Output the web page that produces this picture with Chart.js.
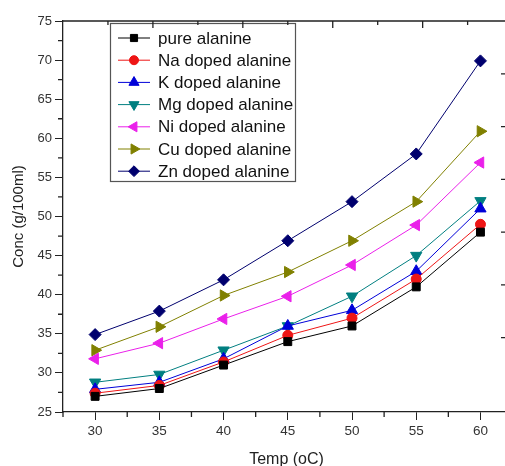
<!DOCTYPE html>
<html lang="en">
<head>
<meta charset="UTF-8">
<title>Conc vs Temp</title>
<script src="https://cdn.jsdelivr.net/npm/chart.js"></script>
<style>
  html, body { margin: 0; padding: 0; background: #fff; overflow: hidden; }
  #wrap { width: 520px; height: 466px; }
</style>
</head>
<body>
<div id="wrap"><canvas id="concChart" width="520" height="466"></canvas></div>

<script>
    // data
    const temps = [30, 35, 40, 45, 50, 55, 60];
    const pureAlanine = [27, 28, 31, 34, 36, 41, 48];
    const naDoped = [27.4, 28.4, 31.4, 34.8, 37, 42, 49];
    const kDoped = [27.9, 28.8, 31.8, 36, 38, 43, 51];
    const mgDoped = [28.8, 29.8, 32.9, 36, 39.8, 45, 52];
    const niDoped = [31.8, 33.8, 36.9, 39.8, 43.8, 48.9, 56.9];
    const cuDoped = [32.9, 35.9, 39.9, 42.9, 46.9, 51.9, 60.9];
    const znDoped = [34.9, 37.9, 41.9, 46.9, 51.9, 58, 69.9];

    const seriesLabels = ['pure alanine', 'Na doped alanine', 'K doped alanine', 'Mg doped alanine',
                          'Ni doped alanine', 'Cu doped alanine', 'Zn doped alanine'];
    const xTickValues = [30, 35, 40, 45, 50, 55, 60];
    const yTickValues = [25, 30, 35, 40, 45, 50, 55, 60, 65, 70, 75];

    const seriesValues = [pureAlanine, naDoped, kDoped, mgDoped, niDoped, cuDoped, znDoped];
    const colors = ['#000000', '#ee1515', '#0000d8', '#007f80', '#ea20ea', '#808000', '#00006e'];
    const markers = [
        { style: 'rect', rot: 0, r: 5.6 },
        { style: 'circle', rot: 0, r: 5 },
        { style: 'triangle', rot: 0, r: 6.5 },
        { style: 'triangle', rot: 180, r: 6.5 },
        { style: 'triangle', rot: -90, r: 6.5 },
        { style: 'triangle', rot: 90, r: 6.5 },
        { style: 'rectRot', rot: 0, r: 6 }
    ];

    const FONT = '"Liberation Sans", Arial, sans-serif';

    const datasets = seriesValues.map((vals, i) => ({
        label: seriesLabels[i],
        data: vals.map((v, j) => ({ x: temps[j], y: v })),
        borderColor: colors[i],
        backgroundColor: colors[i],
        borderWidth: 1,
        pointStyle: markers[i].style,
        pointRotation: markers[i].rot,
        pointRadius: markers[i].r,
        pointBackgroundColor: colors[i],
        pointBorderColor: colors[i],
        pointBorderWidth: 1,
        tension: 0
    }));

    // legend box with line + marker samples, drawn inside the plot
    const legendBox = {
        id: 'legendBox',
        afterDatasetsDraw(chart) {
            const ctx = chart.ctx;
            const a = chart.chartArea;
            const x0 = a.left + 47, y0 = a.top + 2, w = 185, h = 158;
            ctx.save();
            ctx.fillStyle = '#fff';
            ctx.fillRect(x0, y0, w, h);
            ctx.strokeStyle = '#555';
            ctx.lineWidth = 1.2;
            ctx.strokeRect(x0 + 0.5, y0 + 0.5, w, h);
            chart.data.datasets.forEach((ds, i) => {
                const y = y0 + 15 + i * 22.2;
                ctx.strokeStyle = ds.borderColor;
                ctx.lineWidth = 1;
                ctx.beginPath();
                ctx.moveTo(x0 + 8, y);
                ctx.lineTo(x0 + 40, y);
                ctx.stroke();
                ctx.fillStyle = ds.pointBackgroundColor;
                ctx.strokeStyle = ds.pointBorderColor;
                Chart.helpers.drawPoint(ctx, {
                    pointStyle: ds.pointStyle, rotation: ds.pointRotation,
                    radius: ds.pointRadius * 0.9, borderWidth: 1
                }, x0 + 24, y);
                ctx.fillStyle = '#111';
                ctx.font = '17px ' + FONT;
                ctx.textBaseline = 'middle';
                ctx.fillText(ds.label, x0 + 48, y + 1);
            });
            ctx.restore();
        }
    };

    // frame: top line, inward ticks on top/right, minor ticks on left/bottom
    const frame = {
        id: 'frame',
        afterDraw(chart) {
            const ctx = chart.ctx;
            const a = chart.chartArea;
            const xs = chart.scales.x, ys = chart.scales.y;
            ctx.save();
            ctx.strokeStyle = '#222';
            ctx.lineWidth = 1.3;
            ctx.beginPath();
            ctx.moveTo(a.left, a.top);
            ctx.lineTo(a.right, a.top);
            ctx.moveTo(a.right, a.top);
            ctx.lineTo(a.right, a.bottom);
            // minor ticks
            for (let v = 27.5; v < 62; v += 5) {
                const px = xs.getPixelForValue(v);
                ctx.moveTo(px, a.bottom);
                ctx.lineTo(px, a.bottom + 5);
            }
            for (let v = 27.5; v < 75; v += 5) {
                const py = ys.getPixelForValue(v);
                ctx.moveTo(a.left, py);
                ctx.lineTo(a.left - 5, py);
            }
            // top ticks pointing in
            let n = 0;
            for (let v = 31; v < 62; v += 3.5, n++) {
                const px = xs.getPixelForValue(v);
                ctx.moveTo(px, a.top);
                ctx.lineTo(px, a.top + (n % 2 ? 7 : 4));
            }
            // right ticks pointing in
            for (let v = 34.5; v < 72; v += 6.75) {
                const py = ys.getPixelForValue(v);
                ctx.moveTo(a.right, py);
                ctx.lineTo(a.right - 9, py);
            }
            ctx.stroke();
            ctx.restore();
        }
    };

    new Chart(document.getElementById('concChart'), {
        type: 'line',
        data: { datasets },
        options: {
            responsive: false,
            animation: false,
            layout: { padding: { top: 21, right: 10, left: 0, bottom: 0 } },
            plugins: {
                legend: { display: false },
                tooltip: { enabled: false }
            },
            scales: {
                x: {
                    type: 'linear',
                    position: 'bottom',
                    min: 27.5,
                    max: 62.3,
                    afterBuildTicks: s => { s.ticks = xTickValues.map(v => ({ value: v })); },
                    afterFit: s => { s.height = 54; },
                    border: { display: true, color: '#222', width: 1.3 },
                    grid: { drawOnChartArea: false, tickLength: 8, color: '#222', tickColor: '#222' },
                    ticks: { color: '#333', font: { family: FONT, size: 13.5 }, padding: 3 },
                    title: {
                        display: true, text: 'Temp (oC)', color: '#222',
                        font: { family: FONT, size: 16 }, padding: { top: 0, bottom: -3 }
                    }
                },
                y: {
                    type: 'linear',
                    min: 25,
                    max: 75,
                    afterBuildTicks: s => { s.ticks = yTickValues.map(v => ({ value: v })); },
                    afterFit: s => { s.width = 63; },
                    border: { display: true, color: '#222', width: 1.3 },
                    grid: { drawOnChartArea: false, tickLength: 8, color: '#222', tickColor: '#222' },
                    ticks: { color: '#333', font: { family: FONT, size: 13 }, padding: 3 },
                    title: {
                        display: true, text: 'Conc (g/100ml)', color: '#222',
                        font: { family: FONT, size: 15 }, padding: { top: 10, bottom: 0 }
                    }
                }
            }
        },
        plugins: [legendBox, frame]
    });
</script>
</body>
</html>
